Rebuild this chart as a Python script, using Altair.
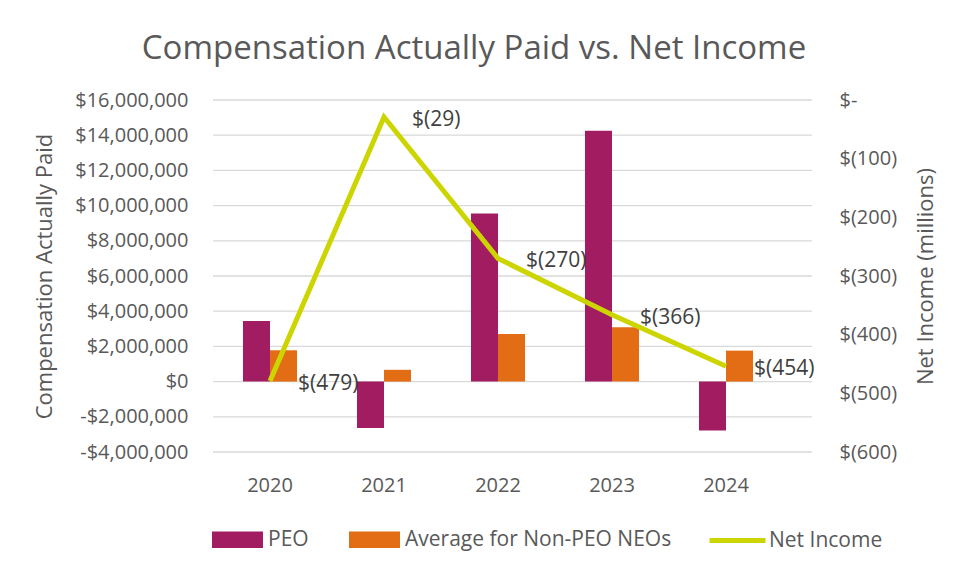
import altair as alt
import pandas as pd

years = ["2020", "2021", "2022", "2023", "2024"]
peo = [3450000, -2630000, 9550000, 14250000, -2780000]
avg_neo = [1780000, 670000, 2700000, 3090000, 1760000]
net_income = [-479, -29, -270, -366, -454]
bar_series = ["PEO", "Average for Non-PEO NEOs"]
line_series = "Net Income"
left_ticks = [-4000000, -2000000, 0, 2000000, 4000000, 6000000, 8000000,
              10000000, 12000000, 14000000, 16000000]
right_ticks = [-600, -500, -400, -300, -200, -100, 0]

bar_colors = ["#A21C62", "#E26D14"]
line_color = "#CDD500"
text_color = "#595959"
FONT = "Open Sans"

bars_df = pd.DataFrame({
    "year": years * 2,
    "series": [bar_series[0]] * 5 + [bar_series[1]] * 5,
    "value": peo + avg_neo,
})
line_df = pd.DataFrame({"year": years, "net": net_income, "series": line_series})
grid_df = pd.DataFrame({"tick": left_ticks})

x_enc = alt.X(
    "year:N",
    sort=years,
    scale=alt.Scale(paddingInner=0.526, paddingOuter=0.263),
    axis=alt.Axis(title=None, labelAngle=0, domain=False, ticks=False, grid=False,
                  labelPadding=23, labelFontSize=20, labelColor=text_color, labelFont=FONT),
)

left_scale = alt.Scale(domain=[-4000000, 16000000], nice=False, zero=False)
left_axis = alt.Axis(
    values=left_ticks,
    labelExpr="datum.value < 0 ? '-$' + format(-datum.value, ',.0f') : '$' + format(datum.value, ',.0f')",
    grid=False, domain=False, ticks=False, labelPadding=25,
    labelFontSize=20, labelColor=text_color, labelFont=FONT,
    title="Compensation Actually Paid", titleFontSize=22, titleFontWeight="normal",
    titleColor=text_color, titleFont=FONT, titlePadding=18,
)

right_scale = alt.Scale(domain=[-600, 0], nice=False, zero=False)
right_axis = alt.Axis(
    orient="right", values=right_ticks,
    labelExpr="datum.value == 0 ? '$-' : '$(' + format(-datum.value, ',.0f') + ')'",
    grid=False, domain=False, ticks=False, offset=29, labelPadding=27,
    labelFontSize=20, labelColor=text_color, labelFont=FONT,
    title="Net Income (millions)", titleFontSize=22, titleFontWeight="normal",
    titleColor=text_color, titleFont=FONT, titlePadding=19, titleAngle=270,
    titleBaseline="top",
)

grid = alt.Chart(grid_df).mark_rule(color="#D9D9D9", strokeWidth=1.3).encode(
    y=alt.Y("tick:Q", scale=left_scale, axis=left_axis),
    x=alt.value(0),
    x2=alt.value(599),
)

bars = alt.Chart(bars_df).mark_bar().encode(
    x=x_enc,
    xOffset=alt.XOffset("series:N", sort=bar_series, scale=alt.Scale(paddingInner=0, paddingOuter=0)),
    y=alt.Y("value:Q", scale=left_scale, axis=left_axis),
    fill=alt.Fill(
        "series:N",
        scale=alt.Scale(domain=bar_series, range=bar_colors),
        legend=alt.Legend(
            title=None, orient="none", legendX=-1, legendY=414, direction="horizontal",
            symbolType="M-1,-0.32L1,-0.32L1,0.32L-1,0.32Z", symbolSize=2601,
            symbolStrokeWidth=0, labelFontSize=21, labelColor=text_color, labelFont=FONT,
            columnPadding=40, labelOffset=5, labelLimit=0,
        ),
    ),
)

line = alt.Chart(line_df).mark_line(strokeWidth=5).encode(
    x=x_enc,
    y=alt.Y("net:Q", scale=right_scale, axis=right_axis),
    stroke=alt.Stroke(
        "series:N",
        scale=alt.Scale(domain=[line_series], range=[line_color]),
        legend=alt.Legend(
            title=None, orient="none", legendX=494, legendY=410, direction="horizontal",
            symbolType="stroke", symbolSize=3136, symbolStrokeWidth=5,
            labelFontSize=21, labelColor=text_color, labelFont=FONT, labelOffset=1,
            labelLimit=0,
        ),
    ),
)

labels = alt.Chart(line_df).transform_calculate(
    label="'$(' + format(-datum.net, ',.0f') + ')'"
).mark_text(align="left", baseline="middle", dx=28, dy=3, fontSize=21,
            color="#404040", font=FONT).encode(
    x=x_enc,
    y=alt.Y("net:Q", scale=right_scale, axis=right_axis),
    text="label:N",
)

left_layer = alt.layer(grid, bars)
right_layer = alt.layer(line, labels)

chart = alt.layer(left_layer, right_layer).resolve_scale(
    y="independent", fill="independent", stroke="independent"
).properties(
    width=570,
    height=352,
    title=alt.TitleParams(
        "Compensation Actually Paid vs. Net Income", fontSize=33, font=FONT,
        fontWeight="normal", color=text_color, anchor="middle", dx=-24, offset=24,
    ),
    padding={"left": 25, "top": 25, "right": 5, "bottom": 5},
    background="white",
).configure_view(stroke=None)

chart.save("out.html", embed_options={"renderer": "svg", "actions": False})
